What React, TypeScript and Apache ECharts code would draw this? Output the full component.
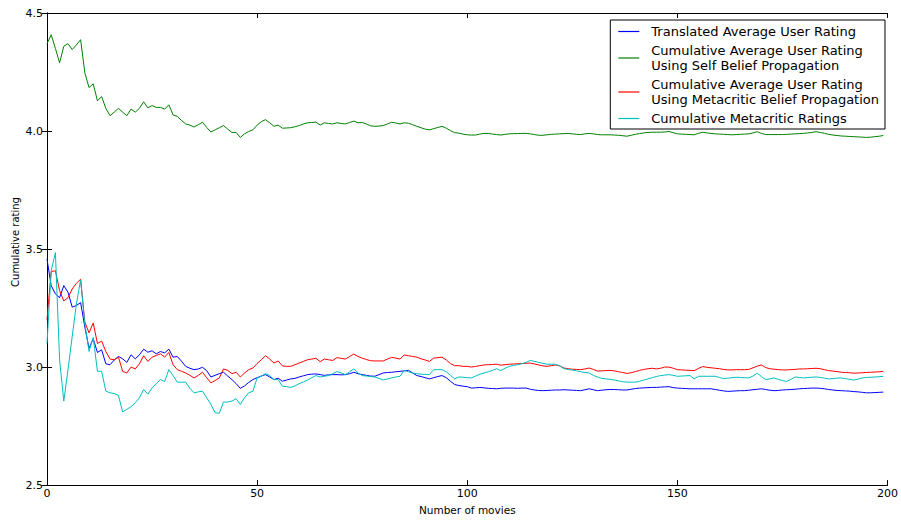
import React, { useEffect, useRef } from "react";
import * as echarts from "echarts";

const seriesNames = [
  "Translated Average User Rating",
  "Cumulative Average User Rating\nUsing Self Belief Propagation",
  "Cumulative Average User Rating\nUsing Metacritic Belief Propagation",
  "Cumulative Metacritic Ratings",
];
const seriesColors = ["#0000ff", "#008000", "#ff0000", "#00bfbf"];

const xTicks = [0, 50, 100, 150, 200];
const yTicks = [2.5, 3.0, 3.5, 4.0, 4.5];
const xTitle = "Number of movies";
const yTitle = "Cumulative rating";

const translated = [
  3.457, 3.345, 3.31, 3.294, 3.345, 3.317, 3.254, 3.261, 3.273, 3.17,
  3.08, 3.12, 3.062, 3.073, 3.014, 3.01, 3.03, 3.045, 3.035, 3.02,
  3.052, 3.035, 3.052, 3.076, 3.063, 3.069, 3.056, 3.066, 3.06, 3.076,
  3.042, 3.045, 3.025, 3.003, 2.995, 2.989, 2.992, 2.999, 2.985, 2.958,
  2.965, 2.972, 2.978, 2.962, 2.947, 2.93, 2.91, 2.92, 2.935, 2.947,
  2.955, 2.962, 2.968, 2.958, 2.947, 2.953, 2.94, 2.945, 2.95, 2.952,
  2.958, 2.963, 2.968, 2.97, 2.971, 2.968, 2.965, 2.967, 2.968, 2.968,
  2.967, 2.968, 2.972, 2.978, 2.972, 2.968, 2.965, 2.962, 2.961, 2.968,
  2.975, 2.977, 2.978, 2.98, 2.982, 2.984, 2.986, 2.975, 2.964, 2.96,
  2.955, 2.95, 2.955, 2.96, 2.964, 2.955, 2.94, 2.926, 2.922, 2.919,
  2.917, 2.911, 2.912, 2.914, 2.912, 2.91, 2.909, 2.908, 2.91, 2.911,
  2.911, 2.911, 2.91, 2.911, 2.911, 2.906, 2.903, 2.901, 2.9, 2.901,
  2.902, 2.903, 2.903, 2.904, 2.903, 2.902, 2.901, 2.9, 2.904, 2.908,
  2.904, 2.9, 2.902, 2.904, 2.905, 2.905, 2.904, 2.903, 2.903, 2.906,
  2.909, 2.911, 2.912, 2.913, 2.914, 2.914, 2.915, 2.916, 2.917, 2.913,
  2.911, 2.91, 2.909, 2.908, 2.908, 2.908, 2.908, 2.908, 2.908, 2.905,
  2.902, 2.899, 2.897, 2.898, 2.899, 2.9, 2.9, 2.902, 2.904, 2.906,
  2.908, 2.905, 2.902, 2.9, 2.901, 2.903, 2.904, 2.905, 2.906, 2.908,
  2.909, 2.91, 2.911, 2.911, 2.91, 2.908, 2.905, 2.903, 2.901, 2.9,
  2.899, 2.898, 2.896, 2.895, 2.893, 2.891, 2.891, 2.892, 2.893, 2.894,
];

const selfBelief = [
  4.37, 4.408, 4.35, 4.289, 4.359, 4.37, 4.345, 4.365, 4.387, 4.247,
  4.184, 4.2, 4.128, 4.146, 4.096, 4.065, 4.08, 4.096, 4.08, 4.065,
  4.093, 4.08, 4.096, 4.124, 4.098, 4.108, 4.1, 4.1, 4.093, 4.111,
  4.068, 4.062, 4.045, 4.03, 4.025, 4.017, 4.027, 4.037, 4.015, 3.996,
  4.005, 4.014, 4.023, 4.008, 3.994, 3.994, 3.973, 3.988, 3.998, 4.005,
  4.025, 4.04, 4.048, 4.035, 4.02, 4.025, 4.012, 4.013, 4.014, 4.018,
  4.023, 4.03, 4.035, 4.036, 4.038, 4.025, 4.035, 4.032, 4.03, 4.035,
  4.032, 4.03, 4.036, 4.042, 4.035, 4.036, 4.03, 4.022, 4.02, 4.021,
  4.023, 4.03, 4.037, 4.034, 4.03, 4.035, 4.033, 4.027, 4.02, 4.014,
  4.008, 4.005, 4.01, 4.015, 4.02, 4.012, 4.002, 3.993, 3.991, 3.987,
  3.984, 3.983, 3.983, 3.987, 3.99, 3.99, 3.987, 3.985, 3.983, 3.986,
  3.988, 3.989, 3.989, 3.99, 3.99, 3.988, 3.985, 3.982, 3.982, 3.984,
  3.986, 3.987, 3.988, 3.989, 3.99, 3.988, 3.986, 3.985, 3.988, 3.99,
  3.988, 3.985, 3.984, 3.984, 3.984, 3.983, 3.982, 3.98, 3.978, 3.982,
  3.986, 3.989, 3.992, 3.994, 3.995, 3.995, 3.995, 3.996, 3.998, 3.993,
  3.988, 3.987, 3.986, 3.985, 3.984, 3.99, 3.995, 3.992, 3.99, 3.988,
  3.987, 3.986, 3.985, 3.984, 3.985, 3.986, 3.987, 3.988, 3.992, 3.997,
  3.99, 3.985, 3.985, 3.985, 3.985, 3.985, 3.986, 3.987, 3.988, 3.989,
  3.99, 3.992, 3.994, 3.997, 3.994, 3.99, 3.986, 3.983, 3.981, 3.979,
  3.978, 3.977, 3.976, 3.975, 3.974, 3.973, 3.974, 3.976, 3.978, 3.981,
];

const metaBelief = [
  3.2, 3.405, 3.408, 3.324, 3.28, 3.294, 3.331, 3.355, 3.372, 3.191,
  3.145, 3.187, 3.1, 3.11, 3.066, 3.034, 3.031, 3.042, 2.982, 2.975,
  3.0, 2.992, 3.014, 3.048, 3.024, 3.042, 3.049, 3.056, 3.042, 3.062,
  3.01, 2.989, 2.982, 2.975, 2.965, 2.954, 2.965, 2.978, 2.955, 2.933,
  2.943, 2.954, 2.992, 2.986, 2.972, 2.978, 2.958, 2.975, 2.989, 2.996,
  3.015, 3.031, 3.048, 3.034, 3.017, 3.026, 3.005, 3.003, 3.003, 3.01,
  3.017, 3.024, 3.031, 3.034, 3.037, 3.023, 3.034, 3.031, 3.028, 3.04,
  3.037, 3.034, 3.045, 3.055, 3.045, 3.038, 3.032, 3.027, 3.026, 3.026,
  3.026, 3.034, 3.041, 3.038, 3.034, 3.051, 3.048, 3.045, 3.042, 3.035,
  3.03, 3.024, 3.038, 3.04, 3.042, 3.03, 3.015, 3.006, 3.006, 3.003,
  3.003, 3.0, 3.003, 3.006, 3.009, 3.01, 3.011, 3.012, 3.008, 3.01,
  3.012, 3.013, 3.014, 3.015, 3.016, 3.017, 3.013, 3.009, 3.005, 3.003,
  3.006, 3.009, 3.005, 2.996, 2.993, 2.991, 2.99, 2.989, 2.992, 2.996,
  2.99, 2.983, 2.984, 2.985, 2.986, 2.984, 2.98, 2.977, 2.973, 2.976,
  2.981, 2.986, 2.99, 2.993, 2.995, 2.992, 2.995, 3.0, 3.0, 2.995,
  2.989, 2.988, 2.987, 2.986, 2.985, 2.994, 3.002, 2.999, 2.997, 2.995,
  2.993, 2.99, 2.988, 2.988, 2.989, 2.989, 2.989, 2.99, 2.997, 3.004,
  3.009, 2.998, 2.993, 2.991, 2.989, 2.988, 2.988, 2.989, 2.99, 2.992,
  2.992, 2.993, 2.994, 2.995, 2.993, 2.989, 2.985, 2.983, 2.981, 2.978,
  2.977, 2.976, 2.974, 2.975, 2.976, 2.977, 2.978, 2.979, 2.98, 2.982,
];

const metacritic = [
  3.1, 3.408, 3.485, 3.031, 2.856, 2.989, 3.13, 3.268, 3.369, 3.185,
  3.066, 3.126, 2.982, 2.982, 2.898, 2.891, 2.888, 2.88, 2.81, 2.821,
  2.832, 2.849, 2.87, 2.905, 2.885, 2.912, 2.93, 2.947, 2.939, 2.989,
  2.964, 2.936, 2.936, 2.936, 2.91, 2.891, 2.895, 2.898, 2.87, 2.842,
  2.807, 2.804, 2.852, 2.852, 2.856, 2.866, 2.842, 2.87, 2.891, 2.898,
  2.954, 2.961, 2.972, 2.964, 2.947, 2.947, 2.919, 2.917, 2.914, 2.92,
  2.93, 2.937, 2.945, 2.955, 2.964, 2.958, 2.961, 2.964, 2.972, 2.981,
  2.975, 2.968, 2.98, 2.992, 2.975, 2.964, 2.962, 2.96, 2.958, 2.952,
  2.945, 2.95, 2.954, 2.958, 2.961, 2.986, 2.98, 2.975, 2.972, 2.97,
  2.969, 2.968, 2.989, 2.989, 2.989, 2.98, 2.965, 2.95, 2.958, 2.957,
  2.955, 2.954, 2.962, 2.97, 2.975, 2.98, 2.986, 2.993, 2.985, 2.995,
  3.003, 3.007, 3.01, 3.014, 3.02, 3.028, 3.024, 3.02, 3.016, 3.012,
  3.012, 3.012, 3.005, 2.993, 2.99, 2.987, 2.984, 2.98, 2.977, 2.975,
  2.965, 2.958, 2.952, 2.95, 2.948, 2.945, 2.942, 2.938, 2.936, 2.936,
  2.936, 2.94, 2.945, 2.95, 2.955, 2.96, 2.964, 2.966, 2.968, 2.965,
  2.961, 2.962, 2.963, 2.964, 2.95, 2.961, 2.961, 2.961, 2.961, 2.961,
  2.956, 2.951, 2.953, 2.955, 2.957, 2.956, 2.955, 2.954, 2.962, 2.974,
  2.96, 2.947, 2.95, 2.954, 2.948, 2.943, 2.939, 2.948, 2.958, 2.956,
  2.954, 2.956, 2.957, 2.958, 2.956, 2.953, 2.95, 2.951, 2.953, 2.954,
  2.951, 2.948, 2.945, 2.949, 2.954, 2.956, 2.957, 2.958, 2.959, 2.961,
];

const allSeries = [translated, selfBelief, metaBelief, metacritic];

const FONT = "DejaVu Sans";

export default function App() {
  const ref = useRef<HTMLDivElement>(null);
  useEffect(() => {
    if (!ref.current) return;
    const chart = echarts.init(ref.current, undefined, { renderer: "svg" });
    const xMin = xTicks[0];
    const xMax = xTicks[xTicks.length - 1];
    const yMin = yTicks[0];
    const yMax = yTicks[yTicks.length - 1];
    const tickStyle = { show: true, inside: true, length: 5, lineStyle: { color: "#000", width: 1 } };
    const axisLine = { show: true, lineStyle: { color: "#000", width: 1 } };
    chart.setOption({
      animation: false,
      backgroundColor: "#fff",
      textStyle: { fontFamily: FONT },
      grid: { left: 47, right: 12, top: 13, bottom: 30, containLabel: false },
      legend: {
        orient: "vertical",
        right: 16,
        top: 20,
        data: seriesNames,
        icon: "rect",
        backgroundColor: "#fff",
        borderColor: "#000",
        borderWidth: 1,
        borderRadius: 0,
        padding: [4, 6, 3, 8],
        itemWidth: 21,
        itemHeight: 1.2,
        itemGap: 4,
        textStyle: {
          fontFamily: FONT,
          fontSize: 13,
          color: "#000",
          lineHeight: 15,
          padding: [0, 0, 0, 7],
        },
      },
      graphic: [
        {
          type: "text",
          x: 15,
          y: 242,
          rotation: Math.PI / 2,
          style: {
            text: yTitle,
            fontFamily: FONT,
            fontSize: 10,
            fill: "#000",
            align: "center",
            verticalAlign: "middle",
          },
        },
      ],
      xAxis: [
        {
          type: "value",
          min: xMin,
          max: xMax,
          interval: 50,
          name: xTitle,
          nameLocation: "middle",
          nameGap: 16,
          nameTextStyle: { fontFamily: FONT, fontSize: 10.5, color: "#000" },
          axisLine,
          axisTick: tickStyle,
          axisLabel: { color: "#000", fontSize: 11, fontFamily: FONT, margin: 3 },
          splitLine: { show: false },
        },
        {
          type: "value",
          position: "top",
          min: xMin,
          max: xMax,
          interval: 50,
          axisLine,
          axisTick: tickStyle,
          axisLabel: { show: false },
          splitLine: { show: false },
        },
      ],
      yAxis: [
        {
          type: "value",
          min: yMin,
          max: yMax,
          interval: 0.5,
          axisLine,
          axisTick: tickStyle,
          axisLabel: {
            color: "#000",
            fontSize: 11,
            fontFamily: FONT,
            margin: 4,
            formatter: (v: number) => v.toFixed(1),
          },
          splitLine: { show: false },
        },
        {
          type: "value",
          position: "right",
          min: yMin,
          max: yMax,
          interval: 0.5,
          axisLine,
          axisTick: tickStyle,
          axisLabel: { show: false },
          splitLine: { show: false },
        },
      ],
      series: allSeries.map((vals, i) => ({
        name: seriesNames[i],
        type: "line",
        symbol: "none",
        data: vals.map((v, j) => [j, v]),
        lineStyle: { color: seriesColors[i], width: 1 },
        itemStyle: { color: seriesColors[i] },
        z: 2 + i,
      })),
    });
    return () => chart.dispose();
  }, []);
  return (
    <div
      ref={ref}
      style={{ position: "absolute", left: 0, top: 0, width: 901, height: 520 }}
    />
  );
}
